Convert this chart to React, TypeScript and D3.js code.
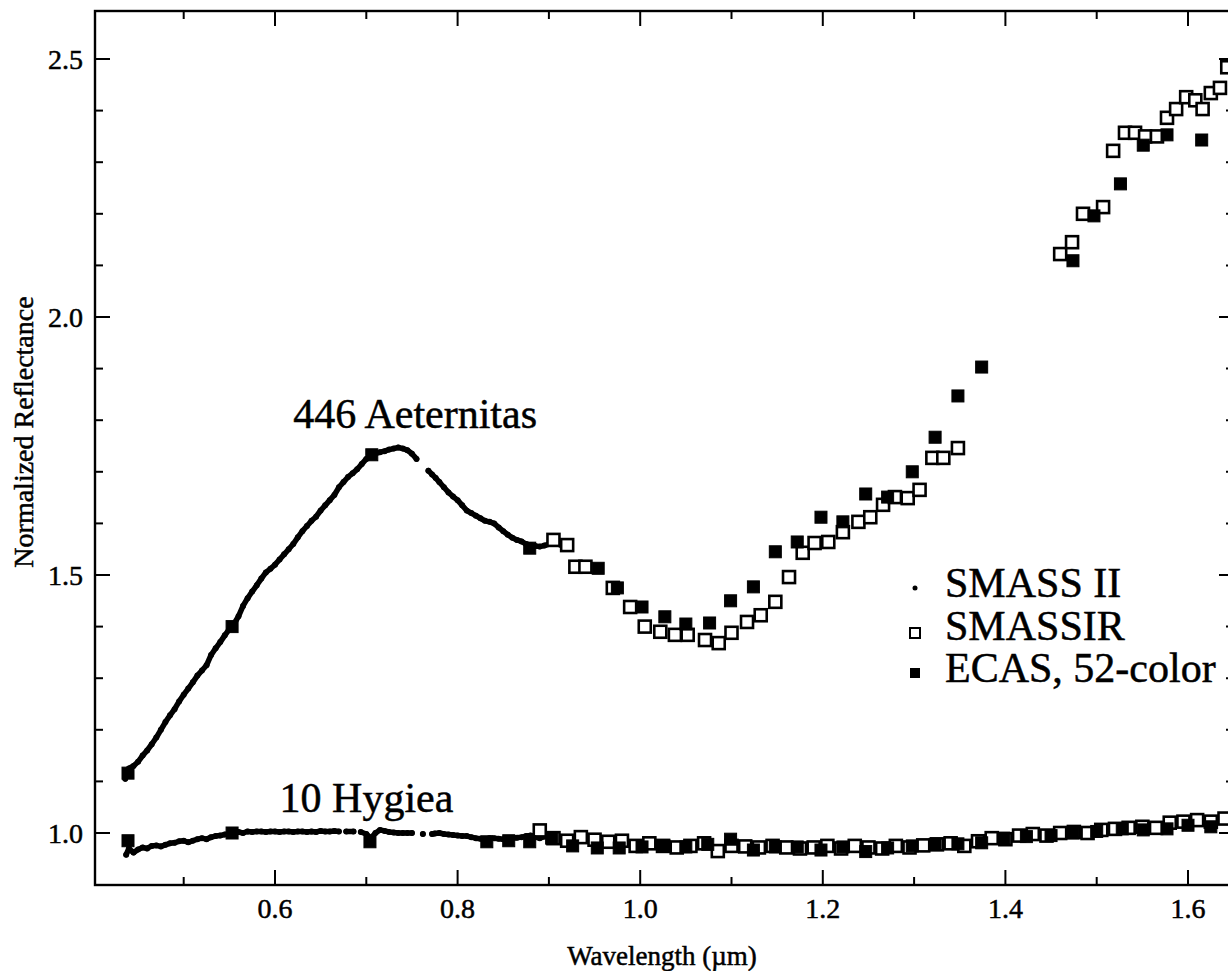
import React from "react";
import * as d3 from "d3";

// ---------- data ----------
const X_MAJOR_TICKS = [0.6, 0.8, 1.0, 1.2, 1.4, 1.6];
const X_MINOR_TICKS = [0.5, 0.7, 0.9, 1.1, 1.3, 1.5];
const Y_MAJOR_TICKS = [1.0, 1.5, 2.0, 2.5];
const Y_MINOR_TICKS = [1.1, 1.2, 1.3, 1.4, 1.6, 1.7, 1.8, 1.9, 2.1, 2.2, 2.3, 2.4];

// 446 Aeternitas, SMASS II (null = gap in the spectrum)
const aeternitasSmass2: [number, number | null][] = [
  [0.436, 1.105], [0.44, 1.125], [0.445, 1.13], [0.45, 1.138], [0.455, 1.15], [0.46, 1.16],
  [0.465, 1.172], [0.47, 1.185], [0.475, 1.2], [0.48, 1.215], [0.485, 1.228], [0.49, 1.24],
  [0.495, 1.255], [0.5, 1.268], [0.505, 1.28], [0.51, 1.292], [0.515, 1.305], [0.52, 1.315],
  [0.525, 1.325], [0.53, 1.345], [0.535, 1.358], [0.54, 1.37], [0.545, 1.383], [0.55, 1.395],
  [0.555, 1.405], [0.56, 1.42], [0.565, 1.44], [0.57, 1.455], [0.575, 1.468], [0.58, 1.48],
  [0.585, 1.493], [0.59, 1.505], [0.595, 1.512], [0.6, 1.52], [0.605, 1.53], [0.61, 1.54],
  [0.615, 1.55], [0.62, 1.56], [0.625, 1.573], [0.63, 1.585], [0.635, 1.595], [0.64, 1.605],
  [0.645, 1.613], [0.65, 1.625], [0.655, 1.635], [0.66, 1.645], [0.665, 1.655], [0.67, 1.67],
  [0.675, 1.68], [0.68, 1.69], [0.685, 1.697], [0.69, 1.705], [0.695, 1.715], [0.7, 1.725],
  [0.705, 1.73], [0.71, 1.735], [0.715, 1.738], [0.72, 1.74], [0.725, 1.743], [0.73, 1.745],
  [0.735, 1.747], [0.74, 1.745], [0.745, 1.742], [0.75, 1.735], [0.755, 1.725], [0.76, null],
  [0.768, 1.702], [0.772, 1.695], [0.776, 1.688], [0.78, 1.68], [0.785, 1.67], [0.79, 1.66],
  [0.795, 1.652], [0.8, 1.645], [0.805, 1.635], [0.81, 1.625], [0.815, 1.62], [0.82, 1.615],
  [0.825, 1.61], [0.83, 1.605], [0.835, 1.603], [0.84, 1.6], [0.845, 1.592], [0.85, 1.585],
  [0.855, 1.578], [0.86, 1.572], [0.865, 1.568], [0.87, 1.565], [0.875, 1.56], [0.88, 1.558],
  [0.885, 1.556], [0.89, 1.555], [0.895, 1.557], [0.9, 1.56], [0.905, 1.562], [0.91, 1.56],
  [0.915, 1.556], [0.92, 1.552],
];

// 446 Aeternitas, SMASSIR
const aeternitasSmassir: [number, number][] = [
  [0.905, 1.568], [0.92, 1.558], [0.929, 1.516], [0.94, 1.516], [0.97, 1.475], [0.989, 1.438],
  [1.005, 1.4], [1.022, 1.39], [1.038, 1.384], [1.052, 1.384], [1.071, 1.374], [1.086, 1.368],
  [1.1, 1.388], [1.117, 1.409], [1.132, 1.422], [1.148, 1.448], [1.163, 1.496], [1.178, 1.543],
  [1.191, 1.562], [1.206, 1.564], [1.222, 1.583], [1.239, 1.603], [1.252, 1.612], [1.266, 1.636],
  [1.279, 1.651], [1.293, 1.649], [1.306, 1.665], [1.32, 1.727], [1.332, 1.727], [1.348, 1.746],
  [1.46, 2.122], [1.473, 2.145], [1.485, 2.2], [1.507, 2.213], [1.518, 2.322], [1.531, 2.357],
  [1.542, 2.357], [1.553, 2.35], [1.566, 2.35], [1.577, 2.386], [1.587, 2.403], [1.598, 2.426],
  [1.608, 2.42], [1.616, 2.403], [1.625, 2.434], [1.635, 2.444], [1.643, 2.484],
];

// 446 Aeternitas, ECAS 52-color
const aeternitasEcas: [number, number][] = [
  [0.439, 1.116], [0.553, 1.4], [0.706, 1.733], [0.879, 1.552], [0.954, 1.513], [0.975, 1.475],
  [1.002, 1.438], [1.027, 1.419], [1.05, 1.405], [1.076, 1.407], [1.099, 1.45], [1.124, 1.477],
  [1.148, 1.545], [1.172, 1.564], [1.198, 1.612], [1.222, 1.603], [1.247, 1.657], [1.271, 1.651],
  [1.298, 1.7], [1.323, 1.767], [1.348, 1.847], [1.374, 1.903], [1.474, 2.109], [1.497, 2.196],
  [1.526, 2.258], [1.551, 2.333], [1.577, 2.353], [1.615, 2.343],
];

// 10 Hygiea, SMASS II
const hygieaSmass2: [number, number | null][] = [
  [0.437, 0.958], [0.44, 0.97], [0.445, 0.962], [0.45, 0.968], [0.455, 0.972], [0.46, 0.97],
  [0.465, 0.975], [0.47, 0.976], [0.475, 0.974], [0.48, 0.977], [0.485, 0.98], [0.49, 0.981],
  [0.495, 0.984], [0.5, 0.985], [0.505, 0.982], [0.51, 0.985], [0.515, 0.988], [0.52, 0.99],
  [0.525, 0.988], [0.53, 0.992], [0.535, 0.994], [0.54, 0.995], [0.545, 0.997], [0.55, 0.998],
  [0.555, 1.0], [0.56, 1.002], [0.565, 1.0], [0.57, 1.003], [0.575, 1.002], [0.58, 1.003],
  [0.585, 1.003], [0.59, 1.002], [0.595, 1.003], [0.6, 1.003], [0.605, 1.002], [0.61, 1.003],
  [0.615, 1.003], [0.62, 1.002], [0.625, 1.003], [0.63, 1.003], [0.635, 1.002], [0.64, 1.003],
  [0.645, 1.002], [0.65, 1.004], [0.655, 1.003], [0.66, 1.003], [0.665, 1.004], [0.67, 1.003],
  [0.675, null], [0.678, 1.003], [0.686, 1.003], [0.69, null], [0.694, 1.002], [0.7, 0.998],
  [0.705, 0.99], [0.71, 1.0], [0.715, 1.006], [0.72, 1.004], [0.725, 1.002], [0.73, 1.001],
  [0.735, 1.0], [0.74, 1.0], [0.745, 1.0], [0.75, 1.0], [0.755, null], [0.762, 0.998],
  [0.765, null], [0.772, 0.998], [0.775, 0.999], [0.78, 1.0], [0.785, 0.998], [0.79, 0.997],
  [0.795, 0.996], [0.8, 0.995], [0.805, 0.994], [0.81, 0.994], [0.815, 0.992], [0.82, 0.99],
  [0.825, 0.989], [0.83, 0.988], [0.835, 0.99], [0.84, 0.99], [0.845, 0.989], [0.85, 0.988],
  [0.855, 0.99], [0.86, 0.99], [0.865, 0.991], [0.87, 0.992], [0.875, 0.994], [0.88, 0.995],
  [0.885, 0.992], [0.89, 0.99], [0.895, 0.993], [0.9, 0.995], [0.905, 0.994], [0.91, 0.993],
  [0.915, 0.992], [0.92, 0.99],
];

// 10 Hygiea, SMASSIR
const hygieaSmassir: [number, number][] = [
  [0.89, 1.005], [0.905, 0.99], [0.92, 0.985], [0.935, 0.992], [0.95, 0.987], [0.965, 0.983],
  [0.98, 0.985], [0.995, 0.975], [1.01, 0.98], [1.025, 0.975], [1.04, 0.972], [1.055, 0.975],
  [1.07, 0.98], [1.085, 0.965], [1.1, 0.975], [1.115, 0.974], [1.13, 0.972], [1.145, 0.975],
  [1.16, 0.972], [1.175, 0.97], [1.19, 0.972], [1.205, 0.975], [1.22, 0.97], [1.235, 0.975],
  [1.25, 0.972], [1.265, 0.97], [1.28, 0.975], [1.295, 0.972], [1.31, 0.976], [1.325, 0.978],
  [1.34, 0.98], [1.355, 0.975], [1.37, 0.984], [1.385, 0.99], [1.4, 0.988], [1.415, 0.995],
  [1.43, 0.998], [1.445, 0.995], [1.46, 1.0], [1.475, 1.002], [1.49, 1.0], [1.505, 1.006],
  [1.52, 1.008], [1.535, 1.01], [1.55, 1.012], [1.565, 1.01], [1.58, 1.02], [1.595, 1.022],
  [1.61, 1.025], [1.625, 1.022], [1.64, 1.028],
];

// 10 Hygiea, ECAS 52-color
const hygieaEcas: [number, number][] = [
  [0.439, 0.985], [0.553, 1.0], [0.704, 0.983], [0.832, 0.983], [0.856, 0.985], [0.879, 0.983],
  [0.903, 0.99], [0.926, 0.975], [0.953, 0.971], [0.977, 0.971], [1.002, 0.973], [1.026, 0.975],
  [1.05, 0.973], [1.074, 0.978], [1.099, 0.988], [1.124, 0.967], [1.148, 0.973], [1.172, 0.973],
  [1.198, 0.967], [1.222, 0.973], [1.247, 0.964], [1.271, 0.971], [1.298, 0.975], [1.323, 0.978],
  [1.348, 0.979], [1.374, 0.981], [1.398, 0.99], [1.423, 0.993], [1.45, 0.995], [1.474, 1.0],
  [1.5, 1.003], [1.528, 1.008], [1.551, 1.006], [1.577, 1.008], [1.6, 1.015], [1.625, 1.012],
];

const LEGEND_LABELS = ["SMASS II", "SMASSIR", "ECAS, 52-color"];
const OBJECT_LABELS = ["446 Aeternitas", "10 Hygiea"];
const OBJECT_LABEL_POS: [number, number][] = [[0.62, 1.785], [0.605, 1.04]];

// ---------- layout ----------
const W = 1228;
const H = 971;
const PLOT = { left: 95, right: 1234, top: 11, bottom: 885 };
const FONT = "'Liberation Serif', 'Times New Roman', Times, serif";

export default function App() {
  const x = d3.scaleLinear().domain([0.6, 1.6]).range([275, 1188]);
  const y = d3.scaleLinear().domain([1.0, 2.5]).range([833, 59]);

  const line = d3
    .line<[number, number | null]>()
    .defined((d) => d[1] !== null)
    .x((d) => x(d[0]))
    .y((d) => y(d[1] as number));

  const major = 15;
  const minor = 8;
  const sq = 12;

  const openSq = (d: [number, number], i: number, key: string) => (
    <rect
      key={key + i}
      x={x(d[0]) - sq / 2}
      y={y(d[1]) - sq / 2}
      width={sq}
      height={sq}
      fill="#fff"
      stroke="#000"
      strokeWidth={2.6}
    />
  );
  const fillSq = (d: [number, number], i: number, key: string) => (
    <rect
      key={key + i}
      x={x(d[0]) - sq / 2}
      y={y(d[1]) - sq / 2}
      width={sq}
      height={sq}
      fill="#000"
      stroke="#000"
      strokeWidth={1}
    />
  );

  const dense = (data: [number, number | null][], key: string) => (
    <g key={key}>
      <path d={line(data) || ""} fill="none" stroke="#000" strokeWidth={5.5} strokeLinecap="round" strokeLinejoin="round" />
      {data
        .filter((d) => d[1] !== null)
        .map((d, i) => (
          <circle key={key + i} cx={x(d[0])} cy={y(d[1] as number)} r={3} fill="#000" />
        ))}
    </g>
  );

  const legendX = 915;
  const legendTextX = 945;
  const legendBase = [597, 640, 682];
  const textStroke = { stroke: "#000", strokeWidth: 0.5 };

  return (
    <div style={{ position: "absolute", left: 0, top: 0, width: W, height: H, background: "#fff" }}>
      <svg width={W} height={H} style={{ display: "block" }} fontFamily={FONT}>
        <rect width={W} height={H} fill="#fff" />
        {/* frame */}
        <rect
          x={PLOT.left}
          y={PLOT.top}
          width={PLOT.right - PLOT.left}
          height={PLOT.bottom - PLOT.top}
          fill="none"
          stroke="#000"
          strokeWidth={2.4}
        />
        {/* x ticks */}
        {X_MAJOR_TICKS.map((t) => (
          <g key={"xm" + t}>
            <line x1={x(t)} x2={x(t)} y1={PLOT.bottom} y2={PLOT.bottom - major} stroke="#000" strokeWidth={2} />
            <line x1={x(t)} x2={x(t)} y1={PLOT.top} y2={PLOT.top + major} stroke="#000" strokeWidth={2} />
            <text x={x(t)} y={918} textAnchor="middle" fontSize={28} {...textStroke}>
              {t.toFixed(1)}
            </text>
          </g>
        ))}
        {X_MINOR_TICKS.map((t) => (
          <g key={"xn" + t}>
            <line x1={x(t)} x2={x(t)} y1={PLOT.bottom} y2={PLOT.bottom - minor} stroke="#000" strokeWidth={2} />
            <line x1={x(t)} x2={x(t)} y1={PLOT.top} y2={PLOT.top + minor} stroke="#000" strokeWidth={2} />
          </g>
        ))}
        {/* y ticks */}
        {Y_MAJOR_TICKS.map((t) => (
          <g key={"ym" + t}>
            <line x1={PLOT.left} x2={PLOT.left + major} y1={y(t)} y2={y(t)} stroke="#000" strokeWidth={2} />
            <line x1={PLOT.right} x2={PLOT.right - major} y1={y(t)} y2={y(t)} stroke="#000" strokeWidth={2} />
            <text x={83} y={y(t)} dy="0.35em" textAnchor="end" fontSize={28} {...textStroke}>
              {t.toFixed(1)}
            </text>
          </g>
        ))}
        {Y_MINOR_TICKS.map((t) => (
          <g key={"yn" + t}>
            <line x1={PLOT.left} x2={PLOT.left + minor} y1={y(t)} y2={y(t)} stroke="#000" strokeWidth={2} />
            <line x1={PLOT.right} x2={PLOT.right - minor} y1={y(t)} y2={y(t)} stroke="#000" strokeWidth={2} />
          </g>
        ))}
        {/* axis titles */}
        <text x={662} y={965} textAnchor="middle" fontSize={27} {...textStroke}>
          Wavelength (µm)
        </text>
        <text transform="translate(33,432) rotate(-90)" textAnchor="middle" fontSize={28} {...textStroke}>
          Normalized Reflectance
        </text>

        {/* data */}
        {dense(aeternitasSmass2, "as2")}
        {dense(hygieaSmass2, "hs2")}
        {hygieaSmassir.map((d, i) => openSq(d, i, "hir"))}
        {hygieaEcas.map((d, i) => fillSq(d, i, "hec"))}
        {aeternitasSmassir.map((d, i) => openSq(d, i, "air"))}
        {aeternitasEcas.map((d, i) => fillSq(d, i, "aec"))}

        {/* object labels */}
        {OBJECT_LABELS.map((l, i) => (
          <text key={l} x={x(OBJECT_LABEL_POS[i][0])} y={y(OBJECT_LABEL_POS[i][1])} fontSize={42} {...textStroke}>
            {l}
          </text>
        ))}

        {/* legend */}
        <circle cx={legendX} cy={588} r={2.5} fill="#000" />
        <rect x={legendX - 5} y={628} width={10} height={10} fill="#fff" stroke="#000" strokeWidth={2} />
        <rect x={legendX - 5} y={668} width={10} height={10} fill="#000" />
        {LEGEND_LABELS.map((l, i) => (
          <text key={l} x={legendTextX} y={legendBase[i]} fontSize={42} {...textStroke}>
            {l}
          </text>
        ))}
      </svg>
    </div>
  );
}
